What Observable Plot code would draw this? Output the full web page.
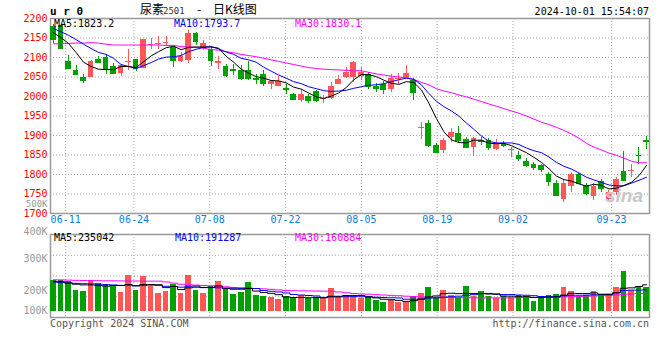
<!DOCTYPE html>
<html><head><meta charset="utf-8">
<script src="https://cdn.jsdelivr.net/npm/d3@7"></script>
<script src="https://cdn.jsdelivr.net/npm/@observablehq/plot@0.6"></script>
<style>
html,body{margin:0;padding:0;background:#fff;}
#chart{position:relative;width:660px;height:360px;overflow:hidden;background:#fff;}
#chart svg{position:absolute;left:0;}
.lbl{position:absolute;white-space:pre;font-family:"DejaVu Sans Mono",monospace;font-size:10px;line-height:10px;}
</style></head><body>
<div id="chart"></div>
<script>
// ---------------- data ----------------
const dates = ["06-06","06-07","06-11","06-12","06-13","06-14","06-17","06-18","06-19","06-20","06-21","06-24","06-25","06-26","06-27","06-28",
"07-01","07-02","07-03","07-04","07-05","07-08","07-09","07-10","07-11","07-12","07-15","07-16","07-17","07-18","07-19","07-22","07-23","07-24","07-25","07-26","07-29","07-30","07-31",
"08-01","08-02","08-05","08-06","08-07","08-08","08-09","08-12","08-13","08-14","08-15","08-16","08-19","08-20","08-21","08-22","08-23","08-26","08-27","08-28","08-29","08-30",
"09-02","09-03","09-04","09-05","09-06","09-09","09-10","09-11","09-12","09-13","09-18","09-19","09-20","09-23","09-24","09-25","09-26","09-27","09-30"];
const open  = [2180,2181,2089,2066,2048,2049,2094,2100,2076,2059,2089,2094,2072,2130,2133,2137,2126,2091,2093,2161,2124,2121,2085,2077,2069,2066,2066,2045,2056,2030,2026,2021,2005,1989,1999,2012,1994,1994,2032,2049,2049,2051,2056,2025,2032,2017,2043,2047,2040,1917,1930,1874,1862,1894,1904,1891,1868,1887,1887,1864,1877,1861,1849,1834,1826,1822,1800,1777,1737,1768,1800,1771,1744,1783,1737,1753,1808,1809,1850,1887];
const high  = [2184,2185,2104,2079,2057,2093,2102,2107,2085,2083,2120,2095,2146,2149,2153,2153,2127,2113,2168,2164,2143,2126,2102,2083,2083,2079,2091,2056,2066,2040,2051,2032,2007,2017,2005,2015,2002,2036,2055,2074,2090,2074,2062,2034,2038,2056,2060,2079,2045,1934,1938,1880,1892,1919,1923,1896,1896,1894,1892,1889,1884,1868,1859,1842,1832,1826,1806,1785,1787,1804,1802,1777,1777,1787,1760,1792,1859,1825,1868,1898];
const low   = [2135,2120,2068,2053,2034,2048,2085,2057,2057,2051,2066,2064,2071,2121,2121,2127,2075,2086,2085,2130,2119,2076,2070,2049,2053,2042,2040,2032,2026,2019,2025,2005,1989,1985,1983,1985,1981,1992,2030,2045,2036,2040,2019,2011,2006,2011,2032,2045,1990,1891,1870,1855,1855,1883,1880,1866,1847,1874,1862,1862,1868,1843,1834,1819,1811,1806,1768,1743,1727,1755,1775,1747,1734,1755,1730,1747,1782,1793,1825,1863];
const close = [2145,2124,2072,2057,2042,2091,2087,2068,2059,2079,2091,2073,2145,2133,2135,2139,2093,2102,2162,2141,2136,2093,2090,2053,2067,2045,2046,2043,2034,2039,2038,2019,1992,2006,1989,1990,1996,2025,2043,2062,2087,2062,2025,2021,2017,2045,2047,2060,2011,1920,1875,1856,1886,1908,1887,1868,1892,1884,1870,1879,1875,1863,1840,1823,1817,1813,1781,1745,1778,1800,1777,1751,1770,1764,1753,1787,1785,1811,1848,1884];
const ma5  = [2163,2151,2136,2113,2088,2077,2070,2069,2069,2077,2077,2074,2089,2104,2115,2125,2129,2120,2126,2127,2127,2127,2124,2103,2088,2070,2060,2051,2047,2041,2040,2035,2024,2019,2009,1999,1995,2001,2009,2023,2043,2056,2056,2051,2042,2034,2031,2038,2036,2017,1983,1944,1910,1889,1882,1881,1888,1888,1880,1879,1880,1874,1865,1856,1844,1831,1815,1796,1787,1783,1776,1770,1775,1772,1763,1765,1772,1780,1797,1823];
const ma10 = [2174,2166,2157,2146,2134,2123,2113,2108,2098,2082,2077,2072,2079,2087,2096,2101,2102,2105,2115,2121,2126,2128,2122,2114,2108,2098,2094,2088,2075,2065,2055,2047,2038,2033,2025,2020,2015,2013,2014,2016,2021,2025,2029,2030,2033,2038,2043,2047,2044,2030,2008,1988,1974,1963,1950,1932,1916,1899,1885,1881,1881,1881,1877,1868,1861,1856,1845,1831,1821,1814,1804,1793,1786,1780,1773,1771,1771,1778,1785,1793];
const ma30 = [2135,2135,2136,2137,2137,2138,2137,2134,2132,2132,2132,2132,2132,2132,2132,2131,2131,2128,2127,2126,2124,2120,2119,2115,2112,2108,2105,2102,2098,2094,2090,2086,2082,2078,2074,2072,2070,2069,2068,2067,2066,2066,2062,2058,2055,2052,2050,2047,2044,2036,2030,2020,2014,2010,2004,1999,1993,1987,1981,1975,1969,1963,1957,1950,1942,1934,1928,1921,1913,1904,1893,1880,1870,1863,1855,1849,1842,1834,1830,1830];
// volume in thousands of lots
const volumeK = [273,273,262,185,176,273,244,238,220,170,317,185,308,220,156,179,238,161,317,185,161,220,264,191,150,170,255,141,132,127,106,132,127,141,117,127,112,205,
136,141,121,115,130,98,77,101,83,77,130,156,210,125,184,145,125,219,131,175,131,116,131,125,145,131,87,131,140,151,215,172,128,145,178,150,150,210,355,185,210,215];
const volMa5K  = [265,262,250,240,234,234,228,223,230,229,236,226,238,238,235,210,220,193,208,214,212,210,225,204,196,196,202,180,168,160,148,128,123,124,121,124,121,134,134,140,140,141,128,120,108,104,98,89,95,110,128,137,157,161,157,159,159,157,154,152,136,135,130,130,123,123,126,128,144,160,158,158,164,152,148,165,205,208,220,235];
const volMa10K = [258,256,252,248,245,243,240,236,233,230,233,226,230,232,230,222,220,214,222,224,210,213,208,205,205,204,205,202,185,178,172,163,150,145,141,137,124,128,128,130,131,130,130,126,123,121,119,108,108,109,118,120,126,130,135,143,148,158,159,155,149,149,145,143,139,132,133,130,138,143,143,144,147,148,153,164,185,188,188,191];
const volMa30K = [279,278,276,274,273,272,271,270,270,269,268,268,267,267,267,260,250,240,235,232,229,226,222,217,211,208,205,202,199,195,190,185,183,182,181,180,179,179,172,165,158,155,152,148,145,142,139,135,131,128,126,125,124,123,122,121,120,120,120,120,120,121,122,123,124,125,126,127,128,130,132,135,138,141,143,146,152,155,158,161];
const priceTicks = [1700,1750,1800,1850,1900,1950,2000,2050,2100,2150,2200];
const dateTicks = ["06-11","06-24","07-08","07-22","08-05","08-19","09-02","09-23"];
const volLabels = ["100K","200K","300K","400K"];
const volLabelAt = [3000,185000,462000,698000];
const volTopLabel = "500K";
const volTopLabelAt = 946000;
const priceMaLabels = ["MA5:1823.2","MA10:1793.7","MA30:1830.1"];
const volMaLabels = ["MA5:235042","MA10:191287","MA30:160884"];
const maColors = ["#000000","#0000ff","#ff00ff"];

// ---------------- build ----------------
const UP = "#ff5656", DOWN = "#00a000";
const rows = dates.map((date, i) => ({
  i, date, open: open[i], high: high[i], low: low[i], close: close[i],
  ma5: ma5[i], ma10: ma10[i], ma30: ma30[i],
  vol: volumeK[i] * 1000, vma5: volMa5K[i] * 1000, vma10: volMa10K[i] * 1000, vma30: volMa30K[i] * 1000,
  color: close[i] >= open[i] ? UP : DOWN
}));
const bw = 0.38;
const chart = document.getElementById("chart");
const common = {width: 660, marginLeft: 50, marginRight: 11,
  style: {background: "transparent", fontFamily: "DejaVu Sans Mono, monospace", fontSize: "10px", overflow: "visible"}};
const pricePanel = {...common, height: 232, marginTop: 18, marginBottom: 19};
const volPanel = {...common, height: 170, marginTop: 44, marginBottom: 43};
const dateScale = {type: "linear", domain: [0, dates.length - 1], axis: null};
const candleScale = {type: "linear", domain: [-0.4, dates.length - 0.6], axis: null};
const priceY = {domain: [priceTicks[0], priceTicks[priceTicks.length - 1]], axis: null};
const volY = {domain: [-52800, 677600], axis: null};
const tickIdx = dateTicks.map(d => dates.indexOf(d));
const dotted = {stroke: "#a8a8a8", strokeDasharray: "1,2"};
const frame = Plot.frame({stroke: "#9a9a9a", strokeWidth: 1.5});

const priceGrid = Plot.plot({...pricePanel, x: dateScale, y: priceY, marks: [
  Plot.ruleY(priceTicks.slice(1, -1), dotted),
  Plot.ruleX(tickIdx, dotted),
  frame,
  Plot.text(priceTicks, {y: d => d, text: d => String(d), frameAnchor: "left", textAnchor: "end", dx: -3, fill: "#ff0000"}),
  Plot.text(tickIdx, {x: d => d, text: (d, k) => dateTicks[k], frameAnchor: "bottom", dy: 9, fill: "#0a80dc"})
]});
const priceData = Plot.plot({...pricePanel, x: candleScale, y: priceY, color: {type: "identity"}, marks: [
  Plot.ruleX(rows, {x: "i", y1: "low", y2: "high", stroke: "color", shapeRendering: "crispEdges"}),
  Plot.rect(rows, {x1: d => d.i - bw, x2: d => d.i + bw, y1: "open", y2: "close", fill: "color", shapeRendering: "crispEdges"}),
  Plot.ruleY(rows, {y: "close", x1: d => d.i - bw, x2: d => d.i + bw, stroke: "color", shapeRendering: "crispEdges"}),
  Plot.line(rows, {x: "i", y: "ma30", stroke: maColors[2], strokeWidth: 1}),
  Plot.line(rows, {x: "i", y: "ma10", stroke: maColors[1], strokeWidth: 1}),
  Plot.line(rows, {x: "i", y: "ma5", stroke: maColors[0], strokeWidth: 1})
]});
const [v0, v1] = volY.domain;
const volGrid = Plot.plot({...volPanel, x: dateScale, y: volY, marks: [
  Plot.ruleY([1, 2, 3].map(k => v0 + (v1 - v0) * k / 4), dotted),
  Plot.ruleX(tickIdx, dotted),
  frame,
  Plot.text(volLabelAt, {y: d => d, text: (d, k) => volLabels[k], frameAnchor: "left", textAnchor: "end", dx: -3, fill: "#999999"}),
  Plot.text([volTopLabelAt], {y: d => d, text: () => volTopLabel, frameAnchor: "left", textAnchor: "end", dx: -3, fill: "#999999", fontSize: 9})
]});
const volData = Plot.plot({...volPanel, x: candleScale, y: volY, color: {type: "identity"}, marks: [
  Plot.rect(rows, {x1: d => d.i - bw, x2: d => d.i + bw, y1: 0, y2: "vol", fill: "color", shapeRendering: "crispEdges"}),
  Plot.line(rows, {x: "i", y: "vma30", stroke: maColors[2], strokeWidth: 1, curve: "step"}),
  Plot.line(rows, {x: "i", y: "vma10", stroke: maColors[1], strokeWidth: 1, curve: "step"}),
  Plot.line(rows, {x: "i", y: "vma5", stroke: maColors[0], strokeWidth: 1, curve: "step"})
]});
[[priceGrid, 0], [priceData, 0], [volGrid, 190], [volData, 190]].forEach(([svg, top]) => {
  svg.style.top = top + "px"; chart.appendChild(svg);
});

function label(text, css) {
  const d = document.createElement("div");
  d.className = "lbl"; d.textContent = text;
  Object.assign(d.style, css);
  chart.appendChild(d);
  return d;
}
label("u r 0", {left: "50px", top: "5.7px", fontSize: "11px", lineHeight: "11px", fontWeight: "bold"});
label("尿素", {left: "140px", top: "3px", fontFamily: "'Noto Sans CJK SC', sans-serif", fontSize: "12px", lineHeight: "12px"});
label("2501", {left: "163px", top: "6.5px", fontSize: "9px", lineHeight: "9px", color: "#333"});
label("-", {left: "197px", top: "3px", fontFamily: "'Noto Sans CJK SC', sans-serif", fontSize: "12px", lineHeight: "12px"});
label("日K线图", {left: "213px", top: "3px", fontFamily: "'Noto Sans CJK SC', sans-serif", fontSize: "12px", lineHeight: "12px"});
label("2024-10-01 15:54:07", {right: "11px", top: "6.5px"});
[54, 174, 295].forEach((x, k) => label(priceMaLabels[k], {left: x + "px", top: "18.8px", color: maColors[k]}));
[54, 175, 295].forEach((x, k) => label(volMaLabels[k], {left: x + "px", top: "233.2px", color: maColors[k]}));
label("Copyright 2024 SINA.COM", {left: "50px", top: "319px", color: "#555"});
label("http://finance.sina.com.cn", {right: "11px", top: "318.6px", color: "#555"});
label("sina", {left: "605px", top: "186px", fontFamily: "'Liberation Sans', sans-serif", fontSize: "19px", lineHeight: "19px", fontWeight: "bold", fontStyle: "italic", color: "#c8c8c8"});
</script>
</body></html>
